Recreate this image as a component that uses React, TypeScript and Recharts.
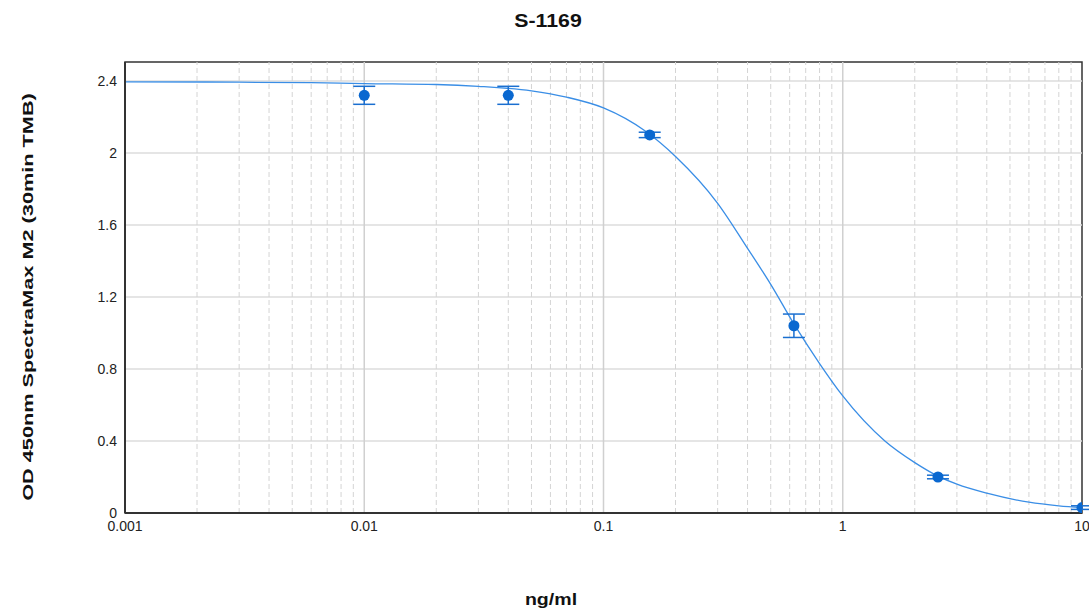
import { ComposedChart, Line, Scatter, ErrorBar, XAxis, YAxis, ReferenceLine, ReferenceArea } from "recharts";

// measured points (ng/ml, OD, sd)
const conc = [0.01, 0.04, 0.156, 0.625, 2.5, 10];
const od = [2.32, 2.32, 2.1, 1.04, 0.2, 0.03];
const sd = [0.05, 0.05, 0.015, 0.065, 0.01, 0.01];

// fitted curve
const fitX = [0.001, 0.003, 0.006, 0.01, 0.02, 0.03, 0.05, 0.07, 0.1, 0.15, 0.2, 0.3, 0.4, 0.5, 0.625, 0.8, 1, 1.5, 2, 2.5, 3, 4, 6, 8, 10];
const fitY = [2.395, 2.393, 2.39, 2.385, 2.38, 2.37, 2.345, 2.31, 2.25, 2.12, 1.98, 1.72, 1.47, 1.27, 1.05, 0.83, 0.65, 0.4, 0.28, 0.205, 0.16, 0.11, 0.06, 0.04, 0.03];

const xTicks = [0.001, 0.01, 0.1, 1, 10];
const yTicks = [0, 0.4, 0.8, 1.2, 1.6, 2, 2.4];
const minorX = [1, 2, 3, 4, 5, 6, 7, 8, 9].flatMap((m) => [0.001, 0.01, 0.1, 1].map((d) => m * d)).filter((v) => !xTicks.includes(v));

const points = conc.map((x, i) => ({ x, y: od[i], err: sd[i] }));
const curve = fitX.map((x, i) => ({ x, y: fitY[i] }));

const fmt = (v: number) => (v >= 1 ? String(v) : String(Number(v.toPrecision(3))));
const font = "Arial, 'Liberation Sans', sans-serif";
const tick = { fill: "#222", fontSize: 14, fontFamily: font };
const bold: React.CSSProperties = { position: "absolute", fontFamily: font, fontWeight: "bold", color: "#111", whiteSpace: "nowrap" };

export default function App() {
  return (
    <div style={{ position: "absolute", left: 0, top: 0, width: 1089, height: 610, background: "#fff" }}>
      <div style={{ ...bold, left: 548, top: 21, fontSize: 19, transform: "translate(-50%, -50%) scaleX(1.12)" }}>S-1169</div>
      <div style={{ ...bold, left: 28, top: 297, fontSize: 14, transform: "translate(-50%, -50%) rotate(-90deg) scaleX(1.55)" }}>OD 450nm SpectraMax M2 (30min TMB)</div>
      <div style={{ ...bold, left: 551, top: 600, fontSize: 17, transform: "translate(-50%, -50%) scaleX(1.15)" }}>ng/ml</div>
      <ComposedChart width={1089} height={610} margin={{ top: 62, right: 7, bottom: 67, left: 65 }}>
        <XAxis dataKey="x" type="number" scale="log" domain={[0.001, 10]} ticks={xTicks} tickFormatter={fmt} allowDataOverflow tick={tick} tickLine={false} axisLine={{ stroke: "#333", strokeWidth: 2 }} height={30} />
        <YAxis type="number" domain={[0, 2.505]} ticks={yTicks} tickFormatter={(v: number) => String(v)} allowDataOverflow tick={tick} tickLine={false} axisLine={{ stroke: "#333", strokeWidth: 2 }} width={60} />
        {yTicks.slice(1).map((v) => <ReferenceLine key={"h" + v} y={v} stroke="#dcdcdc" strokeWidth={1.5} />)}
        {minorX.map((v) => <ReferenceLine key={"m" + v} x={v} stroke="#d4d4d4" strokeDasharray="5 3" />)}
        {xTicks.slice(1, -1).map((v) => <ReferenceLine key={"M" + v} x={v} stroke="#d0d0d0" strokeWidth={1.5} />)}
        <ReferenceArea x1={0.001} x2={10} y1={0} y2={2.505} fill="none" stroke="#333" strokeWidth={1.5} ifOverflow="visible" />
        <Line data={curve} dataKey="y" type="monotone" stroke="#3a8ee6" strokeWidth={1.3} dot={false} isAnimationActive={false} />
        <Scatter data={points} dataKey="y" fill="#0a68d0" isAnimationActive={false} shape={(p: any) => <circle cx={p.cx} cy={p.cy} r={5.5} fill="#0a68d0" />}>
          <ErrorBar dataKey="err" direction="y" width={11} stroke="#1a6fd0" strokeWidth={1.5} />
        </Scatter>
      </ComposedChart>
    </div>
  );
}
